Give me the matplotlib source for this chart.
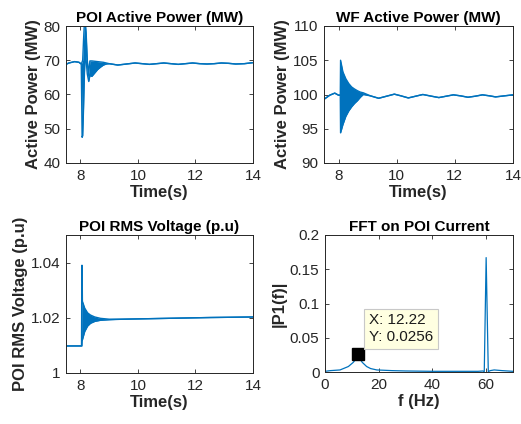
import matplotlib
matplotlib.use("Agg")
import matplotlib.pyplot as plt

plt.rcParams['font.family'] = ['Liberation Sans', 'DejaVu Sans']

BLUE = '#0072BD'
AXC = '#262626'

# ---------------- POI active power (MW): time, upper / lower envelope
poi_t  = [7.5, 7.6, 7.8, 7.95, 8.03, 8.06, 8.08, 8.11, 8.14, 8.17, 8.20, 8.24, 8.29, 8.33,
          8.4, 8.5, 8.6, 8.7, 8.8, 8.9, 9.0, 9.3, 9.6, 9.9, 10.15, 10.4, 10.65, 10.9,
          11.15, 11.4, 11.65, 11.9, 12.15, 12.4, 12.65, 12.9, 13.15, 13.4, 13.7, 14.0]
poi_hi = [68.8, 69.2, 69.6, 69.4, 68.9, 69.5, 70.0, 76.0, 81.0, 81.0, 78.0, 70.0, 66.0, 69.8,
          69.8, 69.7, 69.6, 69.5, 69.4, 69.2, 69.0, 68.6, 68.9, 69.2, 69.0, 68.8, 69.0, 69.2,
          69.0, 68.8, 69.0, 69.2, 69.0, 68.9, 69.0, 69.2, 69.1, 68.9, 69.0, 69.3]
poi_lo = [68.8, 69.2, 69.6, 69.4, 68.9, 47.5, 48.0, 56.0, 66.0, 72.0, 70.0, 66.0, 63.8, 65.5,
          65.3, 66.3, 67.3, 68.0, 68.6, 68.9, 69.0, 68.6, 68.9, 69.2, 69.0, 68.8, 69.0, 69.2,
          69.0, 68.8, 69.0, 69.2, 69.0, 68.9, 69.0, 69.2, 69.1, 68.9, 69.0, 69.3]

# ---------------- WF active power (MW)
wf_t  = [7.5, 7.7, 7.87, 8.0, 8.06, 8.07, 8.15, 8.25, 8.35, 8.45, 8.55, 8.65, 8.75, 8.85,
         9.1, 9.38, 9.65, 9.92, 10.15, 10.4, 10.65, 10.9, 11.2, 11.45, 11.7, 11.95,
         12.2, 12.45, 12.7, 12.95, 13.2, 13.4, 13.7, 14.0]
wf_hi = [99.3, 99.9, 100.2, 99.9, 99.9, 105.0, 103.3, 102.3, 101.6, 101.1, 100.8, 100.55, 100.35, 100.25,
         99.8, 99.45, 99.75, 100.05, 99.8, 99.5, 99.75, 100.0, 99.75, 99.55, 99.75, 99.95,
         99.8, 99.6, 99.75, 99.95, 99.8, 99.65, 99.8, 99.95]
wf_lo = [99.3, 99.9, 100.2, 99.9, 99.9, 94.4, 95.6, 96.8, 97.6, 98.2, 98.7, 99.1, 99.6, 100.0,
         99.8, 99.45, 99.75, 100.05, 99.8, 99.5, 99.75, 100.0, 99.75, 99.55, 99.75, 99.95,
         99.8, 99.6, 99.75, 99.95, 99.8, 99.65, 99.8, 99.95]

# ---------------- POI RMS voltage (p.u)
v_t  = [7.5, 8.04, 8.05, 8.06, 8.07, 8.15, 8.25, 8.35, 8.5, 8.7, 9.0, 9.5, 11.0, 12.5, 14.0]
v_hi = [1.0098, 1.0098, 1.039, 1.039, 1.026, 1.0235, 1.0218, 1.0210, 1.0203, 1.0198, 1.0195,
        1.0195, 1.0198, 1.0201, 1.0203]
v_lo = [1.0098, 1.0098, 1.0098, 1.012, 1.012, 1.0150, 1.0170, 1.0180, 1.0187, 1.0191, 1.0193,
        1.0195, 1.0198, 1.0201, 1.0203]

# ---------------- FFT on POI current
fft_f = [0, 2, 5.6, 8.7, 10.5, 11.5, 12.22, 13.0, 13.9, 15.5, 17.0, 19.3, 25, 30, 40, 50,
         57, 58.8, 59.3, 60.0, 60.8, 61.5, 63, 66, 70]
fft_p = [0.001, 0.002, 0.003, 0.008, 0.014, 0.019, 0.0256, 0.019, 0.014, 0.008, 0.005, 0.003,
         0.002, 0.0015, 0.001, 0.001, 0.001, 0.0015, 0.0005, 0.167, 0.0005, 0.002, 0.003, 0.002, 0.001]
tip_f = 12.22
tip_p = 0.0256

W, H = 521, 424
fig = plt.figure(figsize=(W / 100, H / 100), dpi=100)


def mk_axes(l, r, t, b):
    return fig.add_axes([l / W, 1 - b / H, (r - l) / W, (b - t) / H])


def style(ax):
    for s in ax.spines.values():
        s.set_color(AXC)
        s.set_linewidth(0.7)
    ax.tick_params(direction='in', length=3, width=0.6, color=AXC, labelcolor=AXC,
                   labelsize=11, top=True, right=True, pad=4)


def label(ax, title, xl, yl):
    ax.set_title(title, fontsize=11, fontweight='bold', color='black', pad=3)
    ax.set_xlabel(xl, fontsize=12, fontweight='bold', color=AXC, labelpad=2)
    ax.set_ylabel(yl, fontsize=12, fontweight='bold', color=AXC, labelpad=2)


def env(ax, t, hi, lo):
    ax.fill_between(t, lo, hi, color=BLUE, linewidth=0)
    ax.plot(t, hi, color=BLUE, lw=1.0)
    ax.plot(t, lo, color=BLUE, lw=1.0)


# top-left
ax1 = mk_axes(66, 253, 26, 163)
env(ax1, poi_t, poi_hi, poi_lo)
ax1.set_xlim(7.5, 14)
ax1.set_ylim(40, 80)
ax1.set_xticks([8, 10, 12, 14])
ax1.set_yticks([40, 50, 60, 70, 80])
style(ax1)
label(ax1, 'POI Active Power (MW)', 'Time(s)', 'Active Power (MW)')

# top-right
ax2 = mk_axes(324, 513, 26, 163)
env(ax2, wf_t, wf_hi, wf_lo)
ax2.set_xlim(7.5, 14)
ax2.set_ylim(90, 110)
ax2.set_xticks([8, 10, 12, 14])
ax2.set_yticks([90, 95, 100, 105, 110])
style(ax2)
label(ax2, 'WF Active Power (MW)', 'Time(s)', 'Active Power (MW)')

# bottom-left
ax3 = mk_axes(66, 253, 235, 373)
env(ax3, v_t, v_hi, v_lo)
ax3.set_xlim(7.5, 14)
ax3.set_ylim(1.0, 1.05)
ax3.set_xticks([8, 10, 12, 14])
ax3.set_yticks([1.0, 1.02, 1.04])
ax3.set_yticklabels(['1', '1.02', '1.04'])
style(ax3)
label(ax3, 'POI RMS Voltage (p.u)', 'Time(s)', 'POI RMS Voltage (p.u)')

# bottom-right
ax4 = mk_axes(325, 513, 235, 372)
ax4.plot(fft_f, fft_p, color=BLUE, lw=0.9)
ax4.plot([tip_f], [tip_p], marker='s', ms=8, color='black', ls='none')
ax4.text(16.4, 0.063, 'X: %.2f\nY: %.4f' % (tip_f, tip_p), fontsize=11, color='#1a1a1a',
         va='center', ha='left', linespacing=1.25,
         bbox=dict(boxstyle='square,pad=0.3', fc='#FFFFE1', ec='#C8C8C8', lw=0.8))
ax4.set_xlim(0, 70)
ax4.set_ylim(0, 0.2)
ax4.set_xticks([0, 20, 40, 60])
ax4.set_yticks([0, 0.05, 0.1, 0.15, 0.2])
ax4.set_yticklabels(['0', '0.05', '0.1', '0.15', '0.2'])
style(ax4)
label(ax4, 'FFT on POI Current', 'f (Hz)', '|P1(f)|')

fig.savefig('out.png', dpi=100)
